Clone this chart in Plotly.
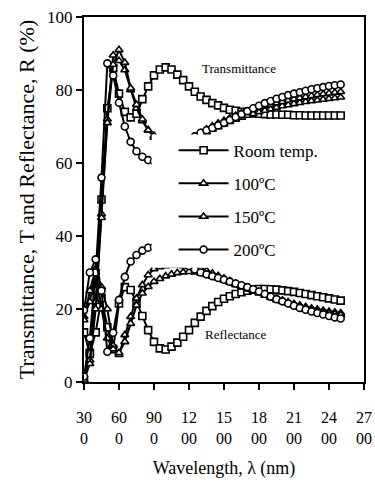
import plotly.graph_objects as go

# Wavelength grid (nm)
wavelength = [300, 350, 400, 450, 500, 550, 600, 650, 700, 750, 800, 850, 900, 950,
              1000, 1050, 1100, 1150, 1200, 1250, 1300, 1350, 1400, 1450, 1500, 1550,
              1600, 1650, 1700, 1750, 1800, 1850, 1900, 1950, 2000, 2050, 2100, 2150,
              2200, 2250, 2300, 2350, 2400, 2450, 2500]

# Transmittance (%)
T_room = [0.5, 8, 25, 50, 75, 86, 79, 74, 72.5, 73.5, 77.5, 81, 84, 85.6,
          86.2, 85.6, 84.2, 82.7, 81, 79.5, 78.2, 77.3, 76.4, 75.8, 75.1, 74.6,
          74.3, 74, 73.8, 73.6, 73.5, 73.4, 73.3, 73.3, 73.2, 73.2, 73.1, 73.1,
          73.0, 73.0, 73.0, 73.0, 73.0, 73.0, 73.0]
T_100 = [0.5, 6, 22, 46, 72, 89.5, 88, 85.5, 80, 75, 71.5, 69, 67, 65.5,
         64.6, 64.2, 64.3, 64.8, 65.6, 66.6, 67.6, 68.4, 69.2, 69.9, 70.6, 71.3,
         71.9, 72.5, 73, 73.5, 74, 74.4, 74.8, 75.2, 75.6, 75.9, 76.2, 76.5,
         76.8, 77, 77.2, 77.4, 77.6, 77.8, 78]
T_150 = [0.5, 5, 20, 45, 71, 87, 91, 87.5, 80.5, 76, 72, 69, 67.5, 66,
         65, 64.6, 64.7, 65.2, 66, 67, 68.2, 69.2, 70.1, 70.9, 71.6, 72.3,
         73, 73.6, 74.1, 74.6, 75.1, 75.6, 76, 76.4, 76.8, 77.2, 77.5, 77.8,
         78.1, 78.4, 78.7, 78.9, 79.1, 79.3, 79.5]
T_200 = [1.5, 12, 30, 56, 87.3, 84, 76.5, 70, 65.8, 63.2, 61.7, 60.8, 60.5, 60.7,
         61.3, 62.3, 63.5, 64.8, 66, 67.3, 68.3, 69, 69.6, 70.3, 71, 71.8,
         72.6, 73.4, 74.2, 75, 75.7, 76.4, 77, 77.6, 78.1, 78.6, 79, 79.4,
         79.8, 80.2, 80.5, 80.8, 81.1, 81.3, 81.5]

# Reflectance (%)
R_room = [13.6, 7.7, 13.6, 23, 15, 9, 21.5, 26, 25.2, 22, 18.1, 14.2, 11, 9.2,
          8.9, 9.7, 10.8, 12.4, 14.2, 16.2, 17.9, 19.5, 20.8, 21.9, 22.8, 23.5,
          24.1, 24.6, 25, 25.3, 25.5, 25.5, 25.4, 25.3, 25.1, 24.9, 24.7, 24.4,
          24.1, 23.8, 23.5, 23.2, 22.9, 22.6, 22.3]
R_100 = [17.9, 22, 30, 26, 20, 10, 7.5, 12.9, 17.9, 22.9, 26.6, 29.3, 31, 31.5,
         31.8, 31.9, 31.9, 31.8, 31.6, 31.3, 31, 30.5, 29.8, 29.1, 28.4, 27.7,
         27, 26.4, 25.8, 25.2, 24.7, 24.1, 23.5, 23, 22.4, 21.9, 21.4, 21,
         20.6, 20.2, 19.9, 19.6, 19.3, 19.1, 18.9]
R_150 = [17, 25, 31, 20, 12, 9, 8, 11, 16, 21, 24.3, 26.1, 27.5, 28.3,
         29, 29.5, 29.9, 30.1, 30.2, 30.1, 29.8, 29.4, 28.9, 28.4, 27.8, 27.2,
         26.6, 26, 25.4, 24.9, 24.3, 23.7, 23.1, 22.5, 22, 21.5, 21, 20.5,
         20.1, 19.7, 19.4, 19.1, 18.8, 18.6, 18.4]
R_200 = [19.7, 30, 33.6, 25, 8.3, 13.5, 22.5, 28.8, 33, 34.8, 36, 36.8, 37, 36.8,
         36.2, 35.3, 34.2, 33, 31.8, 30.8, 30, 29.5, 29, 28.5, 28, 27.5,
         27, 26.5, 26, 25.4, 24.8, 24.1, 23.4, 22.7, 22.1, 21.5, 20.9, 20.3,
         19.8, 19.3, 18.9, 18.5, 18.1, 17.7, 17.4]

series_names = ["Room temp.", "100ºC", "150ºC", "200ºC"]
series_symbols = ["square", "triangle-up", "triangle-up", "circle"]
T_sets = [T_room, T_100, T_150, T_200]
R_sets = [R_room, R_100, R_150, R_200]

x_ticks = [300, 600, 900, 1200, 1500, 1800, 2100, 2400, 2700]
x_ticktext = ["30<br>0", "60<br>0", "90<br>0", "12<br>00", "15<br>00",
              "18<br>00", "21<br>00", "24<br>00", "27<br>00"]

FONT = "Liberation Serif, Times New Roman, serif"

fig = go.Figure()
for name, sym, T, R in zip(series_names, series_symbols, T_sets, R_sets):
    for vals, show in ((T, True), (R, False)):
        fig.add_trace(go.Scatter(
            x=wavelength, y=vals, mode="lines+markers", name=name,
            legendgroup=name, showlegend=show,
            line=dict(color="black", width=2),
            marker=dict(symbol=sym, size=7, color="white",
                        line=dict(color="black", width=1.6)),
        ))

# white panel behind the legend
fig.add_shape(type="rect", xref="x", yref="y", x0=880, x1=2060, y0=31.3, y1=67.8,
              fillcolor="white", line=dict(width=0), layer="above")

fig.add_annotation(x=1630, y=86, text="Transmittance", showarrow=False,
                   xref="x", yref="y", font=dict(family=FONT, size=13, color="black"))
fig.add_annotation(x=1600, y=12.9, text="Reflectance", showarrow=False,
                   xref="x", yref="y", font=dict(family=FONT, size=13, color="black"))

axis_common = dict(showgrid=False, zeroline=False, showline=True, linecolor="black",
                   linewidth=2, mirror=True, ticks="outside", tickcolor="black",
                   ticklen=6, tickwidth=1.5)

fig.update_xaxes(range=[300, 2700], tickvals=x_ticks, ticktext=x_ticktext,
                 ticklabelstandoff=14,
                 tickfont=dict(family=FONT, size=16, color="black"),
                 title=dict(text="Wavelength, λ (nm)", standoff=15,
                            font=dict(family=FONT, size=18, color="black")),
                 **axis_common)
fig.update_yaxes(range=[0, 100], tickvals=[0, 20, 40, 60, 80, 100],
                 tickfont=dict(family=FONT, size=17, color="black"),
                 title=dict(text="Transmittance, T and Reflectance, R (%)", standoff=6,
                            font=dict(family=FONT, size=22, color="black")),
                 **axis_common)

fig.update_layout(
    width=375, height=489,
    margin=dict(l=84, r=11, t=17, b=107, autoexpand=False),
    paper_bgcolor="white", plot_bgcolor="white",
    showlegend=True,
    legend=dict(x=0.32, y=0.683, xanchor="left", yanchor="top",
                bgcolor="rgba(0,0,0,0)", borderwidth=0, itemwidth=50,
                tracegroupgap=8,
                font=dict(family=FONT, size=17, color="black")),
)

fig.write_html("out.html")
